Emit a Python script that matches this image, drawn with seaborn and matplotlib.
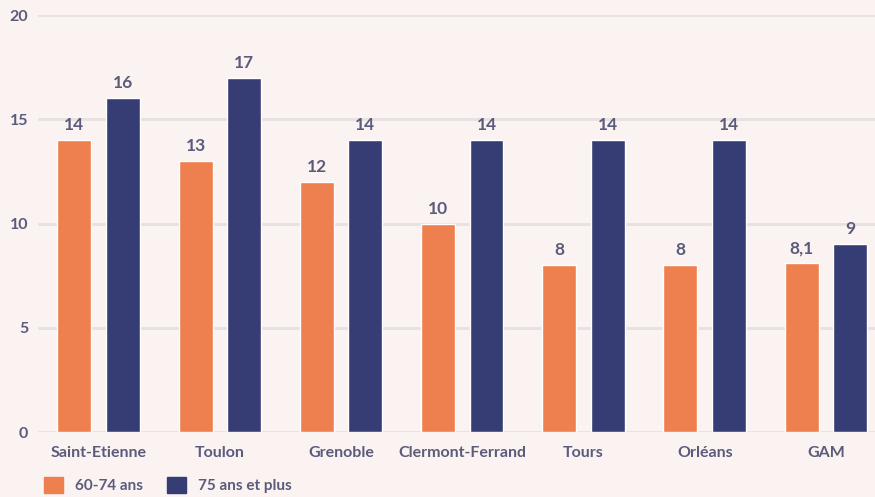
import pandas as pd
import seaborn as sns
import matplotlib.pyplot as plt

cities = ["Saint-Etienne", "Toulon", "Grenoble", "Clermont-Ferrand", "Tours", "Orléans", "GAM"]
groups = ["60-74 ans", "75 ans et plus"]
vals_60_74 = [14, 13, 12, 10, 8, 8, 8.1]
vals_75_plus = [16, 17, 14, 14, 14, 14, 9]
y_ticks = [0, 5, 10, 15, 20]

BG = "#FAF3F1"
ORANGE = "#EE7F4E"
NAVY = "#363C74"
TEXT = "#5B5B7C"
GRID = "#E7E1E1"

df = pd.DataFrame({
    "ville": cities * 2,
    "groupe": [groups[0]] * len(cities) + [groups[1]] * len(cities),
    "valeur": vals_60_74 + vals_75_plus,
})

sns.set_style("white")
plt.rcParams["font.family"] = ["Lato", "DejaVu Sans"]

fig = plt.figure(figsize=(8.75, 4.97), dpi=100, facecolor=BG)
ax = fig.add_axes([38 / 875, 1 - 432 / 497, 1 - 38 / 875, (432 - 15) / 497])
ax.set_facecolor(BG)

sns.barplot(data=df, x="ville", y="valeur", hue="groupe", order=cities,
            hue_order=groups, palette=[ORANGE, NAVY], width=0.8, gap=0.3,
            saturation=1, ax=ax, legend=False, zorder=3)

for cont in ax.containers:
    labels = [f"{v:g}".replace(".", ",") for v in cont.datavalues]
    ax.bar_label(cont, labels=labels, padding=5, color=TEXT, fontsize=12.5,
                 fontweight="bold")

ax.set_ylim(0, 20)
ax.set_xlim(-0.5, 6.405)
ax.set_yticks(y_ticks)
ax.grid(axis="y", color=GRID, linewidth=2, zorder=0)
ax.set_axisbelow(True)
for s in ax.spines.values():
    s.set_visible(False)
ax.tick_params(axis="both", length=0, colors=TEXT, labelsize=11.5)
ax.tick_params(axis="y", pad=7)
ax.tick_params(axis="x", pad=10)
for lab in ax.get_xticklabels() + ax.get_yticklabels():
    lab.set_fontweight("bold")
ax.set_xlabel("")
ax.set_ylabel("")

# legend below the plot
handles = [plt.Rectangle((0, 0), 1, 1, color=c) for c in (ORANGE, NAVY)]
fig.legend(handles, groups, loc="lower left", bbox_to_anchor=(0.035, -0.02),
           ncol=2, frameon=False, handlelength=1.2, handleheight=1.2,
           columnspacing=1.6, handletextpad=0.8,
           prop={"size": 11, "weight": "bold"}, labelcolor=TEXT)

fig.savefig("out.png", dpi=100, facecolor=BG)
